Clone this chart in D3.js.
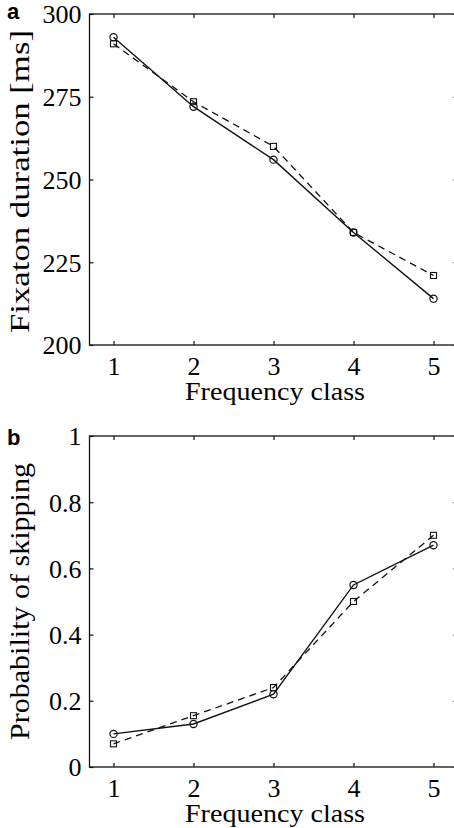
<!DOCTYPE html>
<html>
<head>
<meta charset="utf-8">
<script src="https://cdn.jsdelivr.net/npm/d3@7"></script>
<style>
  html, body { margin: 0; padding: 0; background: #fff; }
  svg { display: block; }
</style>
</head>
<body>
<svg id="chart" width="454" height="828"></svg>
<script>
// frequency classes and the two conditions (circle = solid, square = dashed)
const freqClass = [1, 2, 3, 4, 5];
const durCircle = [293, 272, 256, 234, 214];
const durSquare = [291, 273.5, 260, 234, 221];
const skipCircle = [0.10, 0.13, 0.22, 0.55, 0.67];
const skipSquare = [0.07, 0.155, 0.24, 0.50, 0.70];
const durTicks = [200, 225, 250, 275, 300];
const durTickLabels = ['200', '225', '250', '275', '300'];
const skipTicks = [0, 0.2, 0.4, 0.6, 0.8, 1];
const skipTickLabels = ['0', '0.2', '0.4', '0.6', '0.8', '1'];

const svg = d3.select('#chart');
const serif = '"Liberation Serif", "Times New Roman", serif';
const x = d3.scaleLinear().domain([0.7, 5.3]).range([89.5, 457.5]);

function panel(opt) {
  const y = d3.scaleLinear().domain(opt.domain).range([opt.bottom, opt.top]);
  const g = svg.append('g');
  const x0 = x.range()[0], x1 = x.range()[1];

  // frame (right side falls just outside the picture)
  g.append('rect').attr('x', x0).attr('y', opt.top).attr('width', x1 - x0).attr('height', opt.bottom - opt.top)
    .attr('fill', 'none').attr('stroke', '#111').attr('stroke-width', 1.3);

  // bottom axis, ticks pointing in
  const xb = g.append('g').attr('transform', `translate(0,${opt.bottom})`)
    .call(d3.axisBottom(x).tickValues(freqClass).tickFormat(d3.format('d')).tickSizeInner(-4).tickSizeOuter(0).tickPadding(12));
  xb.select('.domain').remove();
  xb.selectAll('text').attr('font-family', serif).attr('font-size', 26).attr('fill', '#000');
  // top ticks
  const xt = g.append('g').attr('transform', `translate(0,${opt.top})`)
    .call(d3.axisTop(x).tickValues(freqClass).tickFormat('').tickSizeInner(-4).tickSizeOuter(0));
  xt.select('.domain').remove();

  // left axis
  const yl = g.append('g').attr('transform', `translate(${x0},0)`)
    .call(d3.axisLeft(y).tickValues(opt.ticks).tickFormat((d, i) => opt.labels[i]).tickSizeInner(-4).tickSizeOuter(0).tickPadding(8));
  yl.select('.domain').remove();
  yl.selectAll('text').attr('font-family', serif).attr('font-size', 26).attr('fill', '#000').attr('dy', '0.34em');
  const yr = g.append('g').attr('transform', `translate(${x1},0)`)
    .call(d3.axisRight(y).tickValues(opt.ticks).tickFormat('').tickSizeInner(-4).tickSizeOuter(0));
  yr.select('.domain').remove();
  g.selectAll('.tick line').attr('stroke', '#111').attr('stroke-width', 1.2);

  // series
  const line = d3.line().x((d, i) => x(freqClass[i])).y(d => y(d));
  g.append('path').datum(opt.square).attr('d', line).attr('fill', 'none')
    .attr('stroke', '#111').attr('stroke-width', 1.3).attr('stroke-dasharray', '7,5');
  g.append('path').datum(opt.circle).attr('d', line).attr('fill', 'none')
    .attr('stroke', '#111').attr('stroke-width', 1.4);
  g.selectAll('rect.sq').data(opt.square).join('rect').attr('class', 'sq')
    .attr('x', (d, i) => x(freqClass[i]) - 3).attr('y', d => y(d) - 3)
    .attr('width', 6).attr('height', 6).attr('fill', 'none').attr('stroke', '#111').attr('stroke-width', 1.1);
  g.selectAll('circle.ci').data(opt.circle).join('circle').attr('class', 'ci')
    .attr('cx', (d, i) => x(freqClass[i])).attr('cy', d => y(d)).attr('r', 3.6)
    .attr('fill', 'none').attr('stroke', '#111').attr('stroke-width', 1.2);

  // labels
  g.append('text').attr('x', 275).attr('y', opt.bottom + 55).attr('text-anchor', 'middle')
    .attr('font-family', serif).attr('font-size', 25).attr('textLength', 180).attr('lengthAdjust', 'spacingAndGlyphs')
    .text('Frequency class');
  const yc = (opt.yLabelTop + opt.yLabelBottom) / 2;
  g.append('text').attr('transform', `translate(29,${yc}) rotate(-90)`).attr('text-anchor', 'middle')
    .attr('font-family', serif).attr('font-size', 27)
    .attr('textLength', opt.yLabelBottom - opt.yLabelTop).attr('lengthAdjust', 'spacingAndGlyphs')
    .text(opt.yLabel);
  g.append('text').attr('x', 7).attr('y', opt.letterY)
    .attr('font-family', '"Liberation Sans", Arial, sans-serif').attr('font-weight', 'bold').attr('font-size', 22)
    .text(opt.letter);
}

panel({
  domain: [200, 300], top: 14, bottom: 345,
  ticks: durTicks, labels: durTickLabels,
  circle: durCircle, square: durSquare,
  yLabel: 'Fixaton duration [ms]', yLabelTop: 30, yLabelBottom: 333,
  letter: 'a', letterY: 19
});
panel({
  domain: [0, 1], top: 436, bottom: 767,
  ticks: skipTicks, labels: skipTickLabels,
  circle: skipCircle, square: skipSquare,
  yLabel: 'Probability of skipping', yLabelTop: 463, yLabelBottom: 740,
  letter: 'b', letterY: 445
});
</script>
</body>
</html>
